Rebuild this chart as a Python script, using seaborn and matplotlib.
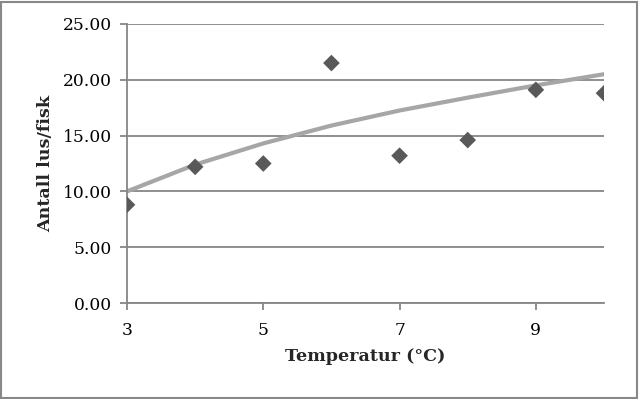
import matplotlib
matplotlib.use("Agg")
import matplotlib.pyplot as plt
import seaborn as sns
import pandas as pd
from matplotlib.ticker import FormatStrFormatter, FixedLocator
from matplotlib.patches import Rectangle

# Data
temperature = [3, 4, 5, 6, 7, 8, 9, 10]
lice_per_fish = [8.8, 12.2, 12.5, 21.5, 13.2, 14.6, 19.1, 18.8]
trend_x = [3, 4, 5, 6, 7, 8, 9, 10]
trend_y = [10.0, 12.4, 14.3, 15.9, 17.25, 18.4, 19.5, 20.5]
x_ticks = [3, 5, 7, 9]
y_ticks = [0, 5, 10, 15, 20, 25]

sns.set_theme(style="white")
plt.rcParams["font.family"] = ["DejaVu Serif"]

df = pd.DataFrame({"t": temperature, "n": lice_per_fish})
tr = pd.DataFrame({"t": trend_x, "n": trend_y})

fig = plt.figure(figsize=(6.4, 3.99), dpi=100)
ax = fig.add_axes([127 / 640, 1 - 303 / 399, (604 - 127) / 640, (303 - 24) / 399])

sns.lineplot(data=tr, x="t", y="n", ax=ax, color="#A6A6A6", linewidth=3.0, zorder=2)
sns.scatterplot(data=df, x="t", y="n", ax=ax, marker="D", s=72, color="#595959",
                edgecolor="none", zorder=3)

ax.set_xlim(3, 10)
ax.set_ylim(0, 25)
ax.xaxis.set_major_locator(FixedLocator(x_ticks))
ax.yaxis.set_major_locator(FixedLocator(y_ticks))
ax.yaxis.set_major_formatter(FormatStrFormatter("%.2f"))

gc = "#868686"
ax.grid(axis="y", color=gc, linewidth=1.3)
ax.grid(axis="x", visible=False)
ax.set_axisbelow(True)
for s in ["top", "right"]:
    ax.spines[s].set_visible(False)
for s in ["left", "bottom"]:
    ax.spines[s].set_color(gc)
    ax.spines[s].set_linewidth(1.3)
ax.tick_params(axis="both", which="major", direction="out", length=5, width=1.3,
               color=gc, labelsize=12.3, labelcolor="black", bottom=True, left=True)
ax.tick_params(axis="y", pad=6)
ax.tick_params(axis="x", pad=9)

ax.set_xlabel("Temperatur (°C)", fontsize=12.6, fontweight="bold", labelpad=6)
ax.set_ylabel("Antall lus/fisk", fontsize=12.6, fontweight="bold", labelpad=6)

fig.patches.append(Rectangle((0.002, 0.003), 0.994, 0.993, transform=fig.transFigure,
                             fill=False, edgecolor="#888888", linewidth=1.5))

fig.savefig("out.png", dpi=100)
